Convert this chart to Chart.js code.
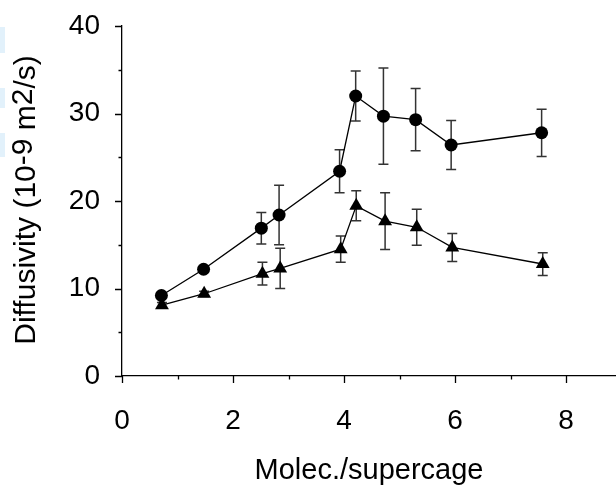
<!DOCTYPE html>
<html>
<head>
<meta charset="utf-8">
<script src="https://cdn.jsdelivr.net/npm/chart.js@4.4.0/dist/chart.umd.min.js"></script>
<style>
  html, body { margin: 0; padding: 0; background: #fff; overflow: hidden; }
  #wrap { position: relative; width: 616px; height: 490px; overflow: hidden; }
  .smudge { position: absolute; left: 0; width: 5px; background: #e2f1fb; }
</style>
</head>
<body>
<div id="wrap">
  <canvas id="chart" width="624" height="490"></canvas>
  <div class="smudge" style="top:27px;height:26px"></div>
  <div class="smudge" style="top:88px;height:20px"></div>
  <div class="smudge" style="top:133px;height:24px"></div>
</div>
<script>
// circles (upper series)
const circleX = [0.71, 1.47, 2.51, 2.83, 3.92, 4.21, 4.71, 5.29, 5.93, 7.56];
const circleY = [9.2, 12.2, 16.9, 18.4, 23.4, 32.0, 29.7, 29.3, 26.4, 27.8];
const circleErr = [0.3, 0.3, 1.8, 3.4, 2.45, 2.85, 5.5, 3.55, 2.8, 2.7];

// triangles (lower series)
const triX = [0.72, 1.48, 2.53, 2.85, 3.94, 4.22, 4.74, 5.31, 5.95, 7.58];
const triY = [8.1, 9.4, 11.7, 12.3, 14.5, 19.45, 17.7, 17.0, 14.7, 12.8];
const triErr = [0.3, 0.3, 1.3, 2.3, 1.5, 1.72, 3.25, 2.05, 1.6, 1.3];

const xTickValues = [0, 1, 2, 3, 4, 5, 6, 7, 8];
const yTickValues = [0, 5, 10, 15, 20, 25, 30, 35, 40];

const FONT = 'Liberation Sans, Arial, Helvetica, sans-serif';

function toPoints(xs, ys) {
    return xs.map((x, i) => ({ x: x, y: ys[i] }));
}

// error bars, drawn under the markers
const errorBars = {
    id: 'errorBars',
    beforeDatasetsDraw(chart) {
        const ctx = chart.ctx;
        const xs = chart.scales.x, ys = chart.scales.y;
        ctx.save();
        ctx.strokeStyle = '#333';
        ctx.lineWidth = 1.5;
        chart.data.datasets.forEach(ds => {
            ds.data.forEach((p, i) => {
                const e = ds.errors[i];
                const px = xs.getPixelForValue(p.x);
                const top = ys.getPixelForValue(p.y + e);
                const bot = ys.getPixelForValue(p.y - e);
                ctx.beginPath();
                ctx.moveTo(px, top); ctx.lineTo(px, bot);
                ctx.moveTo(px - 5, top); ctx.lineTo(px + 5, top);
                ctx.moveTo(px - 5, bot); ctx.lineTo(px + 5, bot);
                ctx.stroke();
            });
        });
        ctx.restore();
    }
};

// tick marks (major longer than minor) and the y axis title
const axisDecor = {
    id: 'axisDecor',
    afterDraw(chart) {
        const ctx = chart.ctx;
        const xs = chart.scales.x, ys = chart.scales.y;
        const area = chart.chartArea;
        ctx.save();
        ctx.strokeStyle = '#000';
        ctx.lineWidth = 1.3;
        ctx.beginPath();
        ys.ticks.forEach(t => {
            const py = Math.round(ys.getPixelForValue(t.value)) + 0.5;
            const len = t.value % 10 === 0 ? 7 : 3.5;
            ctx.moveTo(area.left - len, py); ctx.lineTo(area.left, py);
        });
        xs.ticks.forEach(t => {
            const px = Math.round(xs.getPixelForValue(t.value)) + 0.5;
            const len = t.value % 2 === 0 ? 7 : 3.5;
            ctx.moveTo(px, area.bottom); ctx.lineTo(px, area.bottom + len);
        });
        ctx.stroke();

        // y title, exponents raised a little
        const parts = [
            ['Diffusivity (10', 0], ['-9', 3.5], [' m', 0], ['2', 3.5], ['/s)', 0]
        ];
        ctx.font = '30px ' + FONT;
        let total = 0;
        parts.forEach(p => { total += ctx.measureText(p[0]).width; });
        ctx.translate(28, 200);
        ctx.rotate(-Math.PI / 2);
        ctx.fillStyle = '#000';
        ctx.textBaseline = 'alphabetic';
        let u = -total / 2;
        parts.forEach(p => {
            ctx.fillText(p[0], u, 7 - p[1]);
            u += ctx.measureText(p[0]).width;
        });
        ctx.restore();
    }
};

new Chart(document.getElementById('chart'), {
    type: 'scatter',
    data: {
        datasets: [
            {
                data: toPoints(circleX, circleY),
                errors: circleErr,
                showLine: true,
                borderColor: '#000',
                borderWidth: 1.3,
                backgroundColor: '#000',
                pointStyle: 'circle',
                pointRadius: 6.5,
                pointBorderWidth: 0
            },
            {
                data: toPoints(triX, triY),
                errors: triErr,
                showLine: true,
                borderColor: '#000',
                borderWidth: 1.3,
                backgroundColor: '#000',
                pointStyle: 'triangle',
                pointRadius: 8,
                pointBorderWidth: 0
            }
        ]
    },
    options: {
        responsive: false,
        animation: false,
        devicePixelRatio: 1,
        layout: { padding: { top: 26, right: 0, left: 0, bottom: 0 } },
        plugins: { legend: { display: false }, tooltip: { enabled: false } },
        scales: {
            x: {
                type: 'linear',
                min: 0,
                max: 8.9,
                afterBuildTicks: s => { s.ticks = xTickValues.map(v => ({ value: v })); },
                afterFit: s => { s.height = 114; },
                grid: { drawOnChartArea: false, drawTicks: false },
                border: { color: '#000', width: 1.3 },
                ticks: {
                    padding: 28,
                    color: '#000',
                    font: { family: FONT, size: 28 },
                    callback: v => (v % 2 === 0 ? String(v) : '')
                },
                title: {
                    display: true,
                    text: 'Molec./supercage',
                    color: '#000',
                    font: { family: FONT, size: 29 },
                    padding: { top: 0, bottom: 2 }
                }
            },
            y: {
                type: 'linear',
                min: 0,
                max: 40,
                afterBuildTicks: s => { s.ticks = yTickValues.map(v => ({ value: v })); },
                afterFit: s => { s.width = 122; s.paddingTop = 0; s.paddingBottom = 0; },
                grid: { drawOnChartArea: false, drawTicks: false },
                border: { color: '#000', width: 1.3 },
                ticks: {
                    padding: 22,
                    color: '#000',
                    font: { family: FONT, size: 28 },
                    callback: v => (v % 10 === 0 ? String(v) : '')
                }
            }
        }
    },
    plugins: [errorBars, axisDecor]
});
</script>
</body>
</html>
